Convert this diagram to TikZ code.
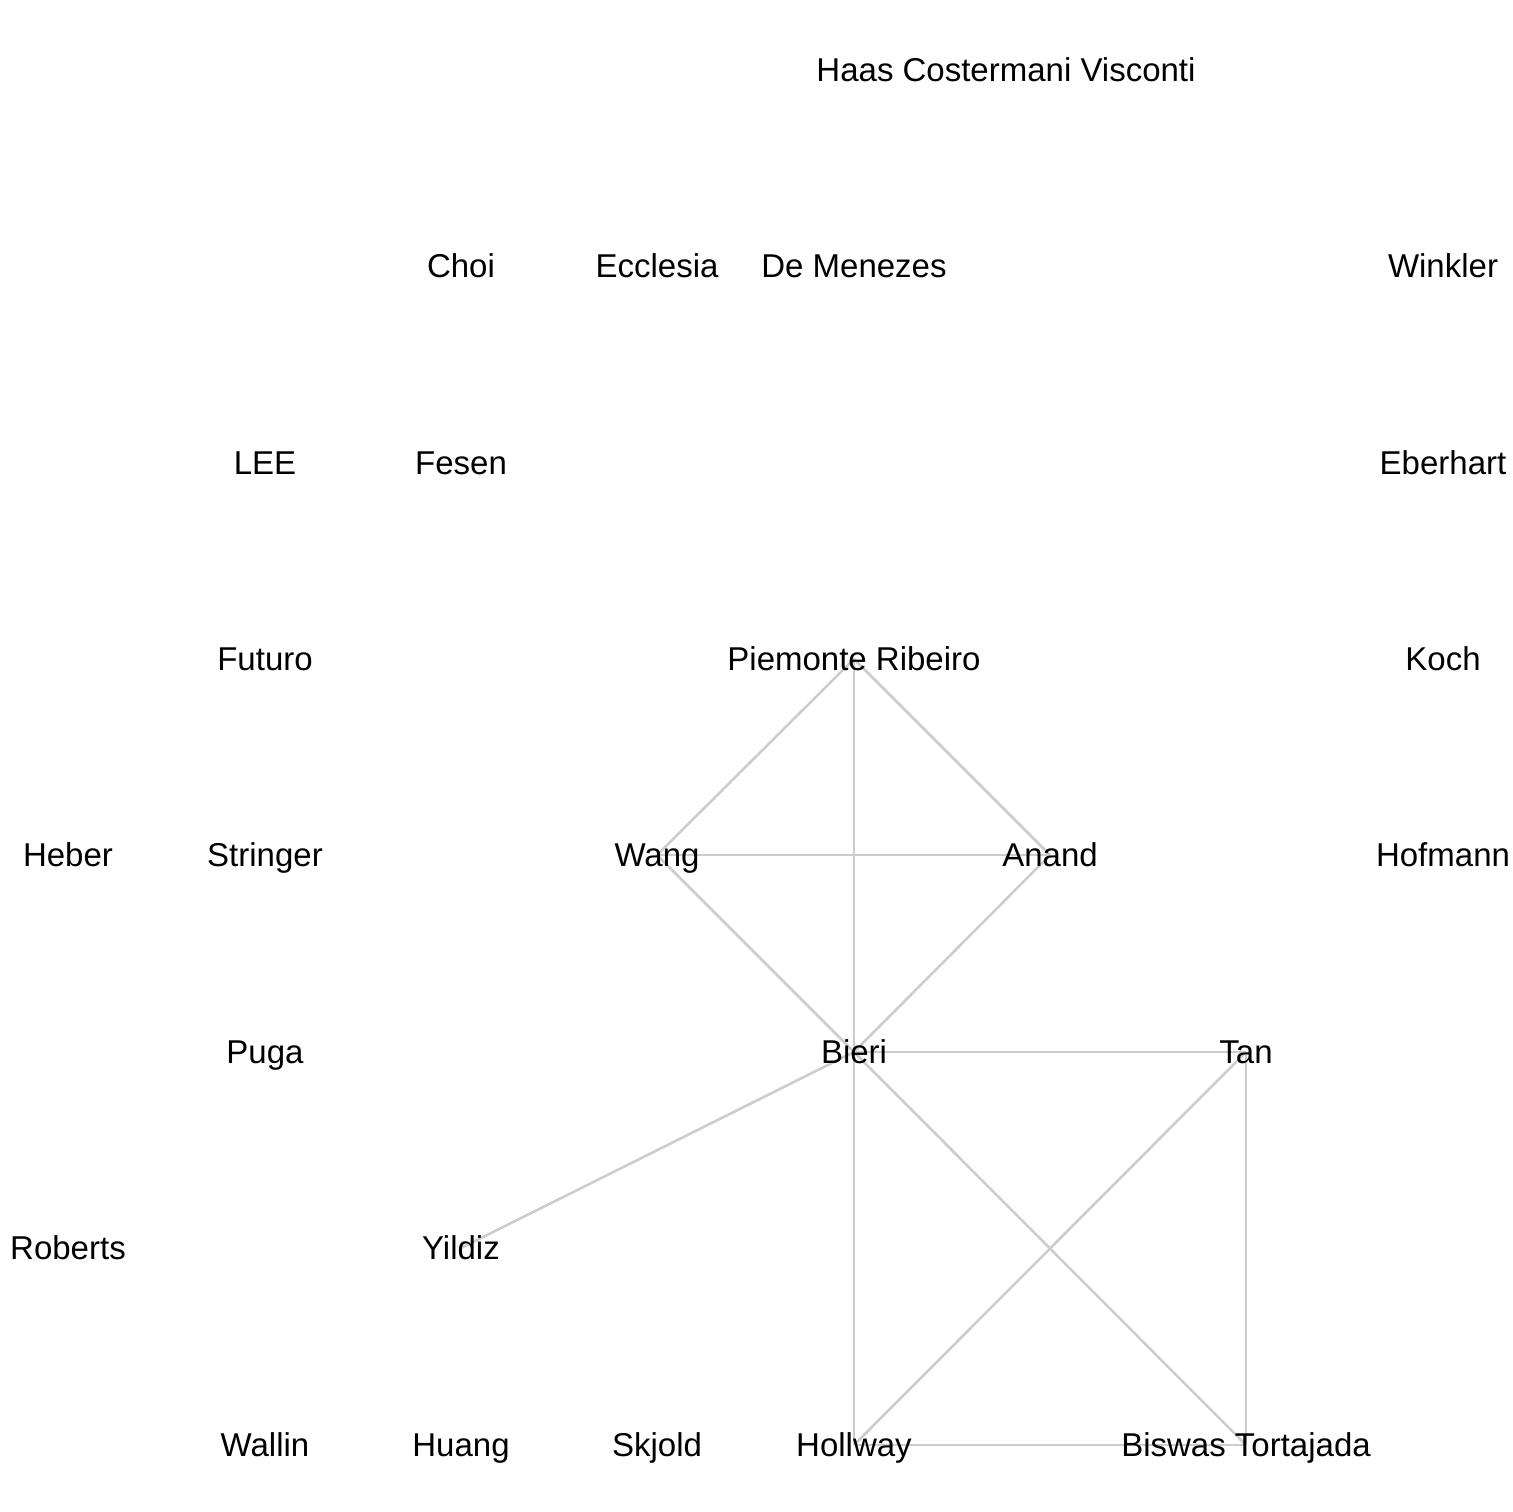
\documentclass[tikz,border=0pt]{standalone}
\usepackage{fontspec}
\setmainfont{Liberation Sans}
\usetikzlibrary{backgrounds}
\begin{document}
\begin{tikzpicture}[x=1pt,y=-1pt,
  lbl/.style={font=\fontsize{33}{38}\selectfont, inner sep=0pt, text=black, text height=23pt, text depth=0pt},
  edge/.style={draw=black!20, line width=2.5pt}]
\useasboundingbox (0,0) rectangle (1512,1512);
\node[lbl] (haas) at (1006,70) {Haas Costermani Visconti};
\node[lbl] (choi) at (461,266) {Choi};
\node[lbl] (ecclesia) at (657,266) {Ecclesia};
\node[lbl] (demenezes) at (854,266) {De Menezes};
\node[lbl] (winkler) at (1443,266) {Winkler};
\node[lbl] (lee) at (265,463) {LEE};
\node[lbl] (fesen) at (461,463) {Fesen};
\node[lbl] (eberhart) at (1443,463) {Eberhart};
\node[lbl] (futuro) at (265,659) {Futuro};
\node[lbl] (piemonte) at (854,659) {Piemonte Ribeiro};
\node[lbl] (koch) at (1443,659) {Koch};
\node[lbl] (heber) at (68,855) {Heber};
\node[lbl] (stringer) at (265,855) {Stringer};
\node[lbl] (wang) at (657,855) {Wang};
\node[lbl] (anand) at (1050,855) {Anand};
\node[lbl] (hofmann) at (1443,855) {Hofmann};
\node[lbl] (puga) at (265,1052) {Puga};
\node[lbl] (bieri) at (854,1052) {Bieri};
\node[lbl] (tan) at (1246,1052) {Tan};
\node[lbl] (roberts) at (68,1248) {Roberts};
\node[lbl] (yildiz) at (461,1248) {Yildiz};
\node[lbl] (wallin) at (265,1445) {Wallin};
\node[lbl] (huang) at (461,1445) {Huang};
\node[lbl] (skjold) at (657,1445) {Skjold};
\node[lbl] (hollway) at (854,1445) {Hollway};
\node[lbl] (biswas) at (1246,1445) {Biswas Tortajada};
\begin{scope}[on background layer]
\fill[white] (0,0) rectangle (1512,1512);
\draw[edge] (piemonte.center) -- (wang.center);
\draw[edge] (piemonte.center) -- (anand.center);
\draw[edge] (piemonte.center) -- (bieri.center);
\draw[edge] (wang.center) -- (anand.center);
\draw[edge] (wang.center) -- (bieri.center);
\draw[edge] (anand.center) -- (bieri.center);
\draw[edge] (bieri.center) -- (tan.center);
\draw[edge] (bieri.center) -- (yildiz.center);
\draw[edge] (bieri.center) -- (hollway.center);
\draw[edge] (bieri.center) -- (biswas.center);
\draw[edge] (tan.center) -- (hollway.center);
\draw[edge] (tan.center) -- (biswas.center);
\draw[edge] (hollway.center) -- (biswas.center);
\end{scope}
\end{tikzpicture}
\end{document}
